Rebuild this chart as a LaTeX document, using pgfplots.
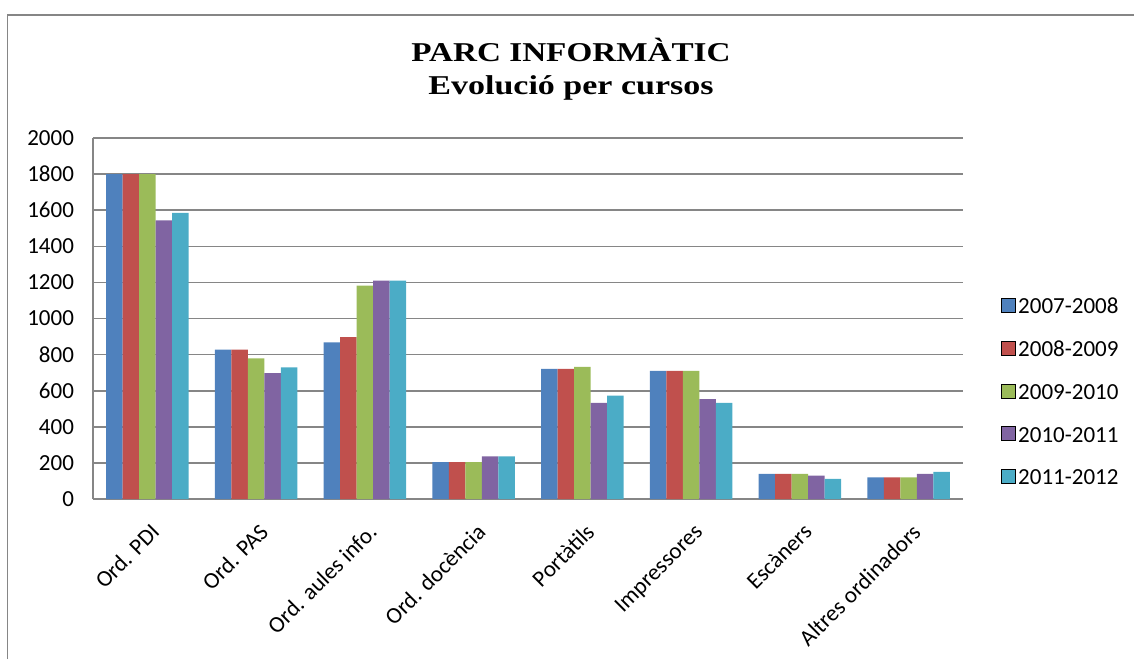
\documentclass[border=0pt]{standalone}
\usepackage{fontspec}
\setmainfont{Carlito}
\newfontfamily\titlefont{Liberation Serif}
\usepackage{graphicx}
\usepackage{pgfplots}
\pgfplotsset{compat=1.18}
\definecolor{cA}{HTML}{4F81BD}
\definecolor{cB}{HTML}{C0504D}
\definecolor{cC}{HTML}{9BBB59}
\definecolor{cD}{HTML}{8064A2}
\definecolor{cE}{HTML}{4BACC6}
\definecolor{gridc}{HTML}{868686}
\pgfplotsset{/pgfplots/ybar legend/.style={/pgfplots/legend image code/.code={\draw[##1,/tikz/.cd] (0pt,-3.5pt) rectangle (7pt,3.5pt);}}}
\begin{document}
\begin{tikzpicture}
\useasboundingbox (0,0) rectangle (567pt,329.5pt);
\draw[gridc, line width=0.8pt] (3.75pt,0) -- (3.75pt,322pt) -- (567pt,322pt);
\node[anchor=base, inner sep=0pt, font=\titlefont\bfseries\fontsize{13.6}{16}\selectfont] at (285.5pt,298.5pt) {\scalebox{1.22}[1]{PARC INFORMÀTIC}};
\node[anchor=base, inner sep=0pt, font=\titlefont\bfseries\fontsize{13.6}{16}\selectfont] at (285.5pt,282.25pt) {\scalebox{1.25}[1]{Evolució per cursos}};
\begin{axis}[
  at={(46.5pt,80pt)}, anchor=south west,
  scale only axis, width=435pt, height=180.5pt,
  ybar=0pt, bar width=8.25pt,
  xmin=-0.5, xmax=7.5, ymin=0, ymax=2000,
  xtick={0,...,7},
  xticklabels={Ord. PDI, Ord. PAS, Ord. aules info., Ord. docència, Portàtils, Impressores, Escàners, Altres ordinadors},
  ytick={0,200,...,2000},
  major tick length=0pt,
  axis x line*=bottom, axis y line*=left,
  axis line style={gridc, line width=0.8pt, -},
  ymajorgrids, grid style={gridc, line width=0.8pt},
  tick label style={font=\fontsize{11.5}{13}\selectfont, text=black},
  /pgf/number format/assume math mode=true,
  /pgf/number format/1000 sep={},
  yticklabel style={xshift=-6pt},
  xticklabel style={rotate=45, anchor=north east, xshift=-4pt, yshift=-5.5pt},
  legend cell align=left,
  legend style={at={(1.0437,0.299)}, anchor=west, draw=none, fill=none, inner sep=0pt,
    row sep=11.2pt, font=\fontsize{11.5}{13}\selectfont,
    nodes={inner sep=1pt, text height=8.2pt, text depth=0pt}},
]
\addplot[fill=cA, draw=none] coordinates {(0,1800) (1,827) (2,868) (3,205) (4,721) (5,710) (6,139) (7,120)};
\addplot[fill=cB, draw=none] coordinates {(0,1800) (1,827) (2,897) (3,205) (4,721) (5,710) (6,139) (7,120)};
\addplot[fill=cC, draw=none] coordinates {(0,1800) (1,779) (2,1182) (3,205) (4,732) (5,710) (6,139) (7,120)};
\addplot[fill=cD, draw=none] coordinates {(0,1544) (1,698) (2,1210) (3,236) (4,532) (5,553) (6,129) (7,139)};
\addplot[fill=cE, draw=none] coordinates {(0,1585) (1,729) (2,1210) (3,236) (4,573) (5,532) (6,111) (7,150)};
\legend{2007-2008,2008-2009,2009-2010,2010-2011,2011-2012}
\end{axis}
\end{tikzpicture}
\end{document}
